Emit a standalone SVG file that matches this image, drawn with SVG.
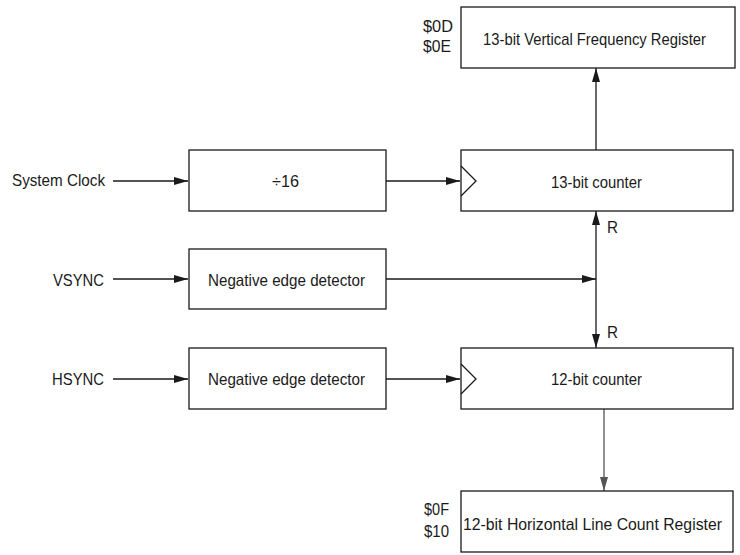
<svg xmlns="http://www.w3.org/2000/svg" width="740" height="555" viewBox="0 0 740 555">
<style>
.box{fill:#fff;stroke:#1a1a1a;stroke-width:1.3}
.t{font-family:"Liberation Sans",Arial,sans-serif;font-size:16.5px;fill:#1a1a1a}
.c{text-anchor:middle}
.w{stroke:#1a1a1a;stroke-width:1.3;fill:none}
.g{stroke:#555;stroke-width:1.3;fill:none}
</style>
<defs>
<marker id="ah" viewBox="0 0 14 8" refX="14" refY="4" markerWidth="14" markerHeight="8" markerUnits="userSpaceOnUse" orient="auto-start-reverse">
<path d="M0,0 L14,4 L0,8 Z" fill="#1a1a1a"/>
</marker>
<marker id="ahg" viewBox="0 0 14 8" refX="14" refY="4" markerWidth="14" markerHeight="8" markerUnits="userSpaceOnUse" orient="auto">
<path d="M0,0 L14,4 L0,8 Z" fill="#555"/>
</marker>
</defs>
<rect width="740" height="555" fill="#fff"/>
<g id="connectors">
<line class="w" x1="113" y1="181" x2="188" y2="181" marker-end="url(#ah)"/>
<line class="w" x1="386" y1="181" x2="460" y2="181" marker-end="url(#ah)"/>
<line class="w" x1="596" y1="150" x2="596" y2="68" marker-end="url(#ah)"/>
<line class="w" x1="113" y1="279" x2="188" y2="279" marker-end="url(#ah)"/>
<line class="w" x1="386" y1="279" x2="596" y2="279" marker-end="url(#ah)"/>
<line class="w" x1="596" y1="211" x2="596" y2="348" marker-start="url(#ah)" marker-end="url(#ah)"/>
<line class="w" x1="113" y1="379" x2="188" y2="379" marker-end="url(#ah)"/>
<line class="w" x1="386" y1="379" x2="460" y2="379" marker-end="url(#ah)"/>
<line class="g" x1="604" y1="409" x2="604" y2="491" marker-end="url(#ahg)"/>
<text class="t" x="607" y="233" textLength="11" lengthAdjust="spacingAndGlyphs">R</text>
<text class="t" x="607" y="338" textLength="11" lengthAdjust="spacingAndGlyphs">R</text>
</g>
<g id="inputs">
<text class="t" x="12" y="186" textLength="93" lengthAdjust="spacingAndGlyphs">System Clock</text>
<text class="t" x="53" y="286" textLength="51" lengthAdjust="spacingAndGlyphs">VSYNC</text>
<text class="t" x="52" y="385" textLength="52" lengthAdjust="spacingAndGlyphs">HSYNC</text>
</g>
<g id="vreg">
<rect class="box" x="461" y="7" width="274" height="61"/>
<text class="t" x="483" y="45" textLength="223" lengthAdjust="spacingAndGlyphs">13-bit Vertical Frequency Register</text>
<text class="t" x="423" y="32" textLength="30" lengthAdjust="spacingAndGlyphs">$0D</text>
<text class="t" x="423" y="52" textLength="28" lengthAdjust="spacingAndGlyphs">$0E</text>
</g>
<g id="div16">
<rect class="box" x="189" y="150" width="197" height="61"/>
<text class="t" x="272" y="187" textLength="27" lengthAdjust="spacingAndGlyphs">÷16</text>
</g>
<g id="counter13">
<rect class="box" x="461" y="150" width="272" height="61"/>
<polyline class="w" points="461,166 476,181 461,196"/>
<text class="t" x="551" y="188" textLength="91" lengthAdjust="spacingAndGlyphs">13-bit counter</text>
</g>
<g id="vdet">
<rect class="box" x="189" y="249" width="197" height="60"/>
<text class="t" x="208" y="286" textLength="157" lengthAdjust="spacingAndGlyphs">Negative edge detector</text>
</g>
<g id="hdet">
<rect class="box" x="189" y="348" width="197" height="61"/>
<text class="t" x="208" y="385" textLength="157" lengthAdjust="spacingAndGlyphs">Negative edge detector</text>
</g>
<g id="counter12">
<rect class="box" x="461" y="348" width="272" height="61"/>
<polyline class="w" points="461,364 476,379 461,394"/>
<text class="t" x="551" y="385" textLength="91" lengthAdjust="spacingAndGlyphs">12-bit counter</text>
</g>
<g id="hreg">
<rect class="box" x="461" y="491" width="272" height="61"/>
<text class="t" x="463" y="530" textLength="259" lengthAdjust="spacingAndGlyphs">12-bit Horizontal Line Count Register</text>
<text class="t" x="424" y="515" textLength="25" lengthAdjust="spacingAndGlyphs">$0F</text>
<text class="t" x="424" y="537" textLength="25" lengthAdjust="spacingAndGlyphs">$10</text>
</g>
</svg>
